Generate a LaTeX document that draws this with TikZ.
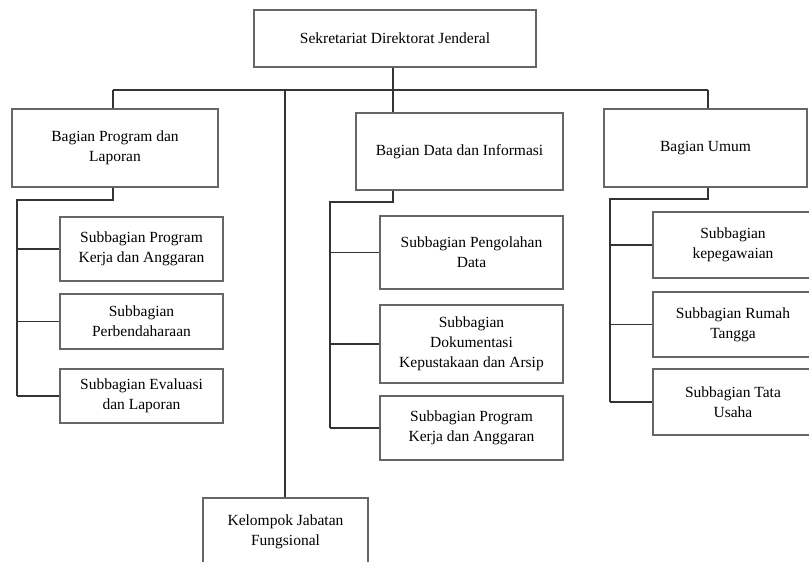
\documentclass[tikz,border=0pt]{standalone}
\usepackage{fontspec}
\setmainfont{Liberation Serif}

\begin{document}
\begin{tikzpicture}[x = 1pt, y = -1pt,
  box/.style = {draw = black!60, line width = 1.1pt, align = center, inner sep = 2pt,
    font = \fontsize{15.5}{20}\selectfont},
  wire/.style = {line width = 1.8pt, black!80}]
\useasboundingbox (0,0) rectangle (809,562);
\clip (0,0) rectangle (809,562);

% kotak
\node[box, minimum width = 282, minimum height = 57] (SEK) at (395,38.5) {Sekretariat Direktorat Jenderal};
\node[box, minimum width = 206, minimum height = 78] (BPL) at (115,148) {Bagian Program dan\\Laporan};
\node[box, minimum width = 207, minimum height = 77] (BDI) at (459.5,151.5) {Bagian Data dan Informasi};
\node[box, minimum width = 203, minimum height = 78] (BUM) at (705.5,148) {Bagian Umum};
\node[box, minimum width = 165, minimum height = 68] (KJF) at (285.5,532) {Kelompok Jabatan\\Fungsional};

\node[box, minimum width = 163, minimum height = 64] (SPL1) at (141.5,249) {Subbagian Program\\Kerja dan Anggaran};
\node[box, minimum width = 163, minimum height = 55] (SPL2) at (141.5,321.5) {Subbagian\\Perbendaharaan};
\node[box, minimum width = 163, minimum height = 54] (SPL3) at (141.5,396) {Subbagian Evaluasi\\dan Laporan};

\node[box, minimum width = 183, minimum height = 73] (SDI1) at (471.5,252.5) {Subbagian Pengolahan\\Data};
\node[box, minimum width = 183, minimum height = 78] (SDI2) at (471.5,344) {Subbagian\\Dokumentasi\\Kepustakaan dan Arsip};
\node[box, minimum width = 183, minimum height = 64] (SDI3) at (471.5,428) {Subbagian Program\\Kerja dan Anggaran};

\node[box, minimum width = 160, minimum height = 66] (SUM1) at (733,245) {Subbagian\\kepegawaian};
\node[box, minimum width = 160, minimum height = 65] (SUM2) at (733,324.5) {Subbagian Rumah\\Tangga};
\node[box, minimum width = 160, minimum height = 66] (SUM3) at (733,402) {Subbagian Tata\\Usaha};

% garis
\coordinate (BUSL) at (113,90);
\coordinate (BUSR) at (708,90);
\coordinate (T1) at (393,90);
\coordinate (T2) at (285,90);
\coordinate (SL) at (17,200);
\coordinate (SM) at (330,202);
\coordinate (SR) at (610,199);

\draw[wire] (BUSL) -- (BUSR);
\draw[wire] (BUSL) -- (BPL.north -| BUSL);
\draw[wire] (BUSR) -- (BUM.north -| BUSR);
\draw[wire] (SEK.south -| T1) -- (BDI.north -| T1);
\draw[wire] (T2) -- (KJF.north -| T2);

\draw[wire] (BPL.south -| BUSL) |- (SL) -- (SL |- SPL3.west);
\draw[wire] (BDI.south -| T1) |- (SM) -- (SM |- SDI3.west);
\draw[wire] (BUM.south -| BUSR) |- (SR) -- (SR |- SUM3.west);
\foreach \n in {1,2,3}{
  \draw[wire] (SL |- SPL\n.west) -- (SPL\n.west);
  \draw[wire] (SM |- SDI\n.west) -- (SDI\n.west);
  \draw[wire] (SR |- SUM\n.west) -- (SUM\n.west);
}
\end{tikzpicture}
\end{document}
